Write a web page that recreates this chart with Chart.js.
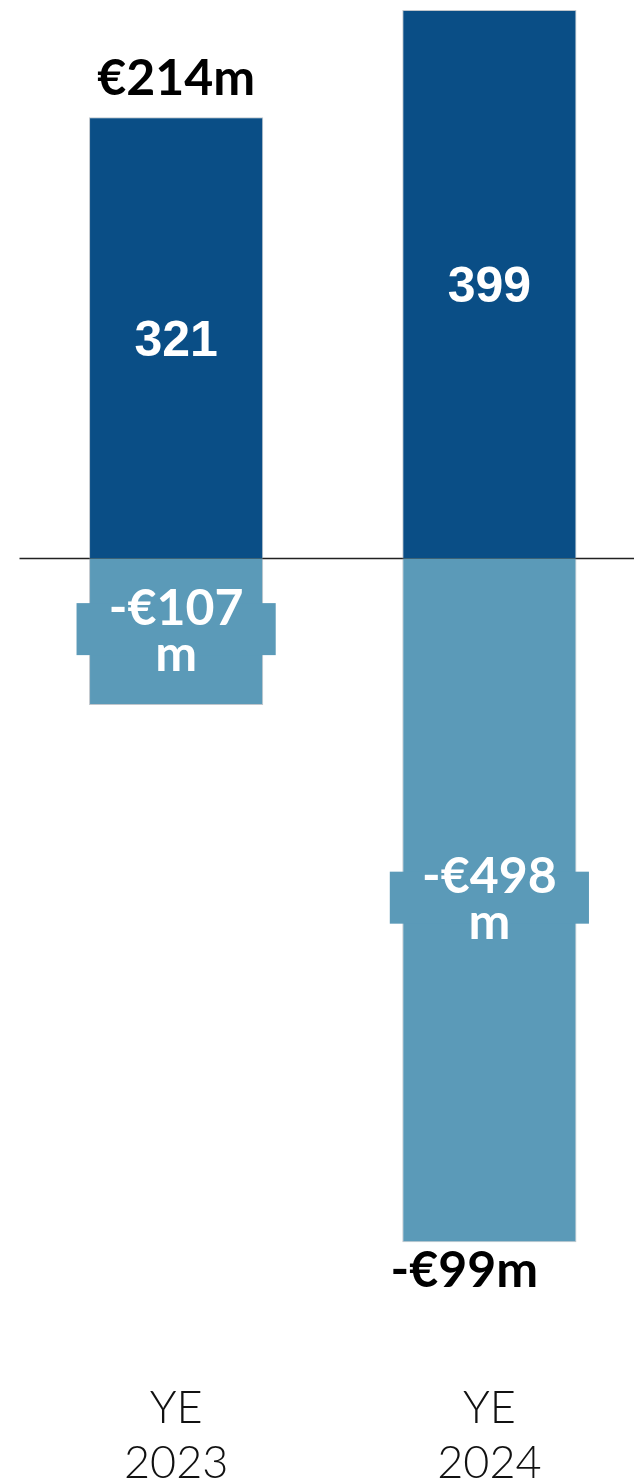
<!DOCTYPE html>
<html>
<head>
<meta charset="utf-8">
<script src="https://cdn.jsdelivr.net/npm/chart.js@4"></script>
<style>
  html, body { margin: 0; padding: 0; background: #fff; overflow: hidden; }
  #wrap { width: 646px; height: 1491px; position: relative; }
</style>
</head>
<body>
<div id="wrap"><canvas id="netChart"></canvas></div>
<script>
// Year-end positions, €m
const periods = [['YE', '2023'], ['YE', '2024']];
const added = [321, 399];
const removed = [-107, -498];

const DARK = '#0A4E86';
const LIGHT = '#5B9AB8';
const HEAD_FONT = 'Lato, "Open Sans", sans-serif';

const euro = v => (v < 0 ? '-€' : '€') + Math.abs(v);

// Baseline at zero, drawn under the bars
const zeroLine = {
    id: 'zeroLine',
    beforeDatasetsDraw(chart) {
        const { ctx, chartArea, scales } = chart;
        const y = Math.round(scales.y.getPixelForValue(0)) + 0.5;
        ctx.save();
        ctx.strokeStyle = '#222';
        ctx.lineWidth = 1.5;
        ctx.beginPath();
        ctx.moveTo(chartArea.left, y);
        ctx.lineTo(chartArea.right, y);
        ctx.stroke();
        ctx.restore();
    }
};

// Labels inside the bars plus the net total per period
const barLabels = {
    id: 'barLabels',
    afterDatasetsDraw(chart) {
        const ctx = chart.ctx;
        const up = chart.getDatasetMeta(0).data;
        const down = chart.getDatasetMeta(1).data;
        ctx.save();
        ctx.textAlign = 'center';
        ctx.textBaseline = 'alphabetic';

        up.forEach((bar, i) => {
            const mid = (bar.y + bar.base) / 2;
            ctx.fillStyle = '#fff';
            ctx.font = 'bold 50px "Liberation Sans", Arial, sans-serif';
            ctx.fillText(String(added[i]), bar.x, mid + 18);
        });

        down.forEach((bar, i) => {
            const mid = (bar.y + bar.base) / 2;
            const w = bar.width + 25;
            ctx.fillStyle = LIGHT;
            ctx.fillRect(bar.x - w / 2, mid - 28.5, w, 52);
            ctx.fillStyle = '#fff';
            ctx.font = 'bold 50px ' + HEAD_FONT;
            ctx.fillText(euro(removed[i]), bar.x, mid - 7);
            ctx.fillText('m', bar.x, mid + 39);
        });

        ctx.fillStyle = '#000';
        ctx.font = 'bold 50px ' + HEAD_FONT;
        up.forEach((bar, i) => {
            const net = added[i] + removed[i];
            if (net >= 0) {
                ctx.fillText(euro(net) + 'm', bar.x, bar.y - 22);
            } else {
                ctx.fillText(euro(net) + 'm', bar.x - 25, down[i].y + 45);
            }
        });
        ctx.restore();
    }
};

new Chart(document.getElementById('netChart'), {
    type: 'bar',
    data: {
        labels: periods,
        datasets: [
            {
                data: added,
                backgroundColor: DARK,
                borderColor: 'rgba(150,160,170,0.6)',
                borderWidth: 1
            },
            {
                data: removed,
                backgroundColor: LIGHT,
                borderColor: 'rgba(150,160,170,0.6)',
                borderWidth: 1
            }
        ]
    },
    options: {
        responsive: true,
        maintainAspectRatio: false,
        animation: false,
        datasets: {
            bar: { barPercentage: 1, categoryPercentage: 0.556 }
        },
        layout: { padding: { left: 19.5, top: 0, right: 0, bottom: 0 } },
        plugins: {
            legend: { display: false },
            tooltip: { enabled: false }
        },
        scales: {
            x: {
                stacked: true,
                grid: { display: false },
                border: { display: false },
                ticks: {
                    color: '#111',
                    padding: 0,
                    font: { family: HEAD_FONT, size: 45, weight: 300, lineHeight: 55 / 45 }
                }
            },
            y: {
                stacked: true,
                display: false,
                min: -593.2,
                max: 406.3
            }
        }
    },
    plugins: [zeroLine, barLabels]
});
</script>
</body>
</html>
